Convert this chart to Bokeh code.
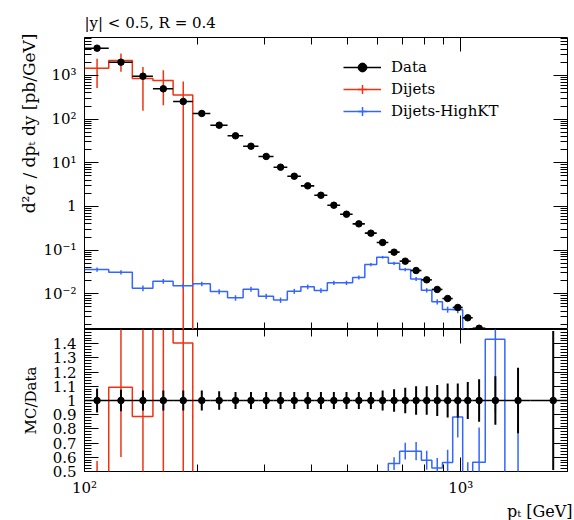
import numpy as np
from bokeh.plotting import figure
from bokeh.layouts import column
from bokeh.models import (Range1d, LogAxis, LinearAxis, FixedTicker, CustomJSTickFormatter,
                          Legend, LegendItem, Title)
from bokeh.embed import file_html
from bokeh.resources import INLINE

# ---------------- data ----------------
bin_edges = [100, 116, 134, 152, 172, 194, 216, 240, 264, 290, 318, 346, 376, 408, 442, 478,
             516, 556, 598, 642, 688, 736, 786, 838, 894, 952, 1012, 1076, 1162, 1310, 1530, 1992]

data_values = [4220, 2017, 963, 496, 254, 135, 72.8, 41.6, 24.0, 14.0, 7.95, 4.94, 2.97, 1.81,
               1.07, 0.667, 0.40, 0.245, 0.150, 0.090, 0.056, 0.0342, 0.0209, 0.0126, 0.0078,
               0.00487, 0.00283, 0.00163, 6.5e-4, 1.9e-4, 2.0e-5]
data_rel_err = [0.085, 0.075, 0.07, 0.07, 0.07, 0.07, 0.065, 0.06, 0.06, 0.06, 0.06, 0.06, 0.06,
                0.06, 0.06, 0.06, 0.06, 0.06, 0.07, 0.08, 0.09, 0.10, 0.10, 0.11, 0.12, 0.12,
                0.13, 0.15, 0.17, 0.23, 0.49]

dijets_values = [1470, 2205, 855, 767, 357, 0, 0, 0, 0, 0, 0, 0, 0, 0, 0, 0,
                 0, 0, 0, 0, 0, 0, 0, 0, 0, 0, 0, 0, 0, 0, 0]
dijets_errors = [950, 990, 700, 560, 370, 0, 0, 0, 0, 0, 0, 0, 0, 0, 0, 0,
                 0, 0, 0, 0, 0, 0, 0, 0, 0, 0, 0, 0, 0, 0, 0]

highkt_values = [0.0361, 0.0313, 0.0135, 0.0195, 0.0153, 0.0170, 0.0113, 0.0081, 0.0128, 0.0088,
                 0.0072, 0.0115, 0.0145, 0.0119, 0.0179, 0.0179, 0.0237, 0.047, 0.069, 0.050,
                 0.036, 0.022, 0.0121, 0.0066, 0.0044, 0.0043, 0.0012, 0.00092, 0.00093, 0.00004, 0]
highkt_errors = [0.004, 0.0035, 0.002, 0.0025, 0.002, 0.002, 0.0015, 0.0012, 0.0017, 0.0012,
                 0.001, 0.0015, 0.0018, 0.0015, 0.002, 0.002, 0.0025, 0.004, 0.005, 0.004,
                 0.0033, 0.0022, 0.0014, 0.0009, 0.0007, 0.0007, 0.0004, 0.0004, 0.00033, 0.00012, 0]

title_text = "|y| < 0.5, R = 0.4"
ylabel_top = "d²σ / dpₜ dy [pb/GeV]"
ylabel_ratio = "MC/Data"
xlabel = "pₜ [GeV]"
legend_labels = ["Data", "Dijets", "Dijets-HighKT"]

x_major_ticks = [100, 1000]
x_minor_ticks = [200, 300, 400, 500, 600, 700, 800, 900, 2000]
y_major_ticks = [1e-3, 1e-2, 1e-1, 1, 10, 100, 1000, 1e4]
ratio_major_ticks = [0.5, 0.6, 0.7, 0.8, 0.9, 1.0, 1.1, 1.2, 1.3, 1.4]

# ---------------- style ----------------
X_RANGE = (100, 1922)
Y_RANGE_TOP = (1.525e-3, 7413)
Y_RANGE_RATIO = (0.5, 1.5)
FONT = "DejaVu Serif"
RED = "#EE3311"
BLUE = "#3366FF"
TINY = 1e-12
W = 574

edges = np.array(bin_edges, dtype=float)
lo, hi = edges[:-1], edges[1:]
centers = (lo + hi) / 2
dv = np.array(data_values, dtype=float)
de = dv * np.array(data_rel_err, dtype=float)

y_minor_ticks = [m * 10.0 ** e for e in range(-3, 4) for m in range(2, 10)]
ratio_minor_ticks = [round(0.5 + 0.02 * k, 2) for k in range(51)]

LOG_JS = """
const e = Math.round(Math.log10(tick));
if (e === 0) { return "1"; }
const sup = {"-": "\u207b", "0": "\u2070", "1": "\u00b9", "2": "\u00b2", "3": "\u00b3",
             "4": "\u2074", "5": "\u2075", "6": "\u2076", "7": "\u2077", "8": "\u2078", "9": "\u2079"};
return "10" + String(e).split("").map(c => sup[c]).join("");
"""
RATIO_JS = """
if (Math.abs(tick - 1) < 1e-9) { return "1"; }
return tick.toFixed(1);
"""
EMPTY_JS = "return '';"


def style_axis(ax, ticker, labels_js):
    ax.ticker = ticker
    ax.axis_line_color = None
    ax.major_tick_in = 14
    ax.major_tick_out = 0
    ax.minor_tick_in = 7
    ax.minor_tick_out = 0
    ax.major_tick_line_color = "black"
    ax.minor_tick_line_color = "black"
    ax.major_tick_line_width = 1
    ax.minor_tick_line_width = 1
    ax.major_label_text_font = FONT
    ax.major_label_text_font_size = "15px"
    ax.major_label_text_color = "black"
    if labels_js is None:
        ax.formatter = CustomJSTickFormatter(code=EMPTY_JS)
        ax.major_label_standoff = 0
    else:
        ax.formatter = CustomJSTickFormatter(code=labels_js)
        ax.major_label_standoff = 8


x_range = Range1d(*X_RANGE)

# ---------------- top panel ----------------
p = figure(width=W, height=329, x_axis_type="log", y_axis_type="log",
           x_range=x_range, y_range=Range1d(*Y_RANGE_TOP),
           output_backend="svg", toolbar_location=None,
           min_border_left=84, min_border_right=7, min_border_top=37, min_border_bottom=0,
           title=title_text)
p.title.text_font = FONT
p.title.text_font_size = "15px"
p.title.text_font_style = "normal"
p.title.text_color = "black"
p.title.align = "left"
p.title.offset = 0
p.title.standoff = 12
p.outline_line_color = "black"
p.outline_line_width = 1
p.grid.visible = False
p.background_fill_color = "white"
p.border_fill_color = "white"

style_axis(p.xaxis[0], FixedTicker(ticks=x_major_ticks, minor_ticks=x_minor_ticks), None)
style_axis(p.yaxis[0], FixedTicker(ticks=y_major_ticks, minor_ticks=y_minor_ticks), LOG_JS)
ax_top = LogAxis()
style_axis(ax_top, FixedTicker(ticks=x_major_ticks, minor_ticks=x_minor_ticks), None)
p.add_layout(ax_top, "above")
ax_right = LogAxis()
style_axis(ax_right, FixedTicker(ticks=y_major_ticks, minor_ticks=y_minor_ticks), None)
p.add_layout(ax_right, "right")

p.add_layout(Title(text=ylabel_top, align="right", text_font=FONT, text_font_size="17px",
                   text_font_style="normal", text_color="black", standoff=3, offset=-4), "left")


def mc_arrays(values, errors):
    v = np.array(values, dtype=float)
    e = np.array(errors, dtype=float)
    step_y = np.where(v > 0, v, TINY)
    step_y = np.append(step_y, step_y[-1])
    mask = v > 0
    return v, e, step_y, mask


# Dijets (red)
rv, re_, r_step, r_mask = mc_arrays(dijets_values, dijets_errors)
red_step = p.step(x=edges, y=r_step, mode="after", line_color=RED, line_width=1.5)
p.segment(x0=centers[r_mask], x1=centers[r_mask],
          y0=np.maximum(rv[r_mask] - re_[r_mask], TINY), y1=rv[r_mask] + re_[r_mask],
          line_color=RED, line_width=1.5)
# invisible markers that only provide the legend's vertical tick
red_tick = p.scatter(x=centers[r_mask], y=rv[r_mask], marker="cross", line_color=RED,
                     line_width=1.5, visible=False)

# Dijets-HighKT (blue)
bv, be, b_step, b_mask = mc_arrays(highkt_values, highkt_errors)
blue_step = p.step(x=edges, y=b_step, mode="after", line_color=BLUE, line_width=1.5)
p.segment(x0=centers[b_mask], x1=centers[b_mask],
          y0=np.maximum(bv[b_mask] - be[b_mask], TINY), y1=bv[b_mask] + be[b_mask],
          line_color=BLUE, line_width=1.5)
blue_tick = p.scatter(x=centers[b_mask], y=bv[b_mask], marker="cross", line_color=BLUE,
                      line_width=1.5, visible=False)

# Data (black)
data_h = p.segment(x0=lo, x1=hi, y0=dv, y1=dv, line_color="black", line_width=1.6)
p.segment(x0=centers, x1=centers, y0=dv - de, y1=dv + de, line_color="black", line_width=1.6)
data_pts = p.scatter(x=centers, y=dv, size=6.5, marker="circle", fill_color="black", line_color="black")
data_tick = p.scatter(x=centers, y=dv, marker="cross", line_color="black", line_width=1.5, visible=False)

legend = Legend(items=[
    LegendItem(label=legend_labels[0], renderers=[data_h, data_tick, data_pts]),
    LegendItem(label=legend_labels[1], renderers=[red_step, red_tick]),
    LegendItem(label=legend_labels[2], renderers=[blue_step, blue_tick]),
], location=(259, 207), orientation="vertical", glyph_width=38, glyph_height=22,
    label_height=22, spacing=0, padding=0, margin=0, label_standoff=10,
    border_line_color=None, background_fill_alpha=0,
    label_text_font=FONT, label_text_font_size="15px", label_text_color="black")
p.add_layout(legend)

# ---------------- ratio panel ----------------
q = figure(width=W, height=191, x_axis_type="log",
           x_range=x_range, y_range=Range1d(*Y_RANGE_RATIO),
           output_backend="svg", toolbar_location=None,
           min_border_left=84, min_border_right=7, min_border_top=0, min_border_bottom=45)
q.outline_line_color = "black"
q.outline_line_width = 1
q.grid.visible = False
q.background_fill_color = "white"
q.border_fill_color = "white"

style_axis(q.xaxis[0], FixedTicker(ticks=x_major_ticks, minor_ticks=x_minor_ticks), LOG_JS)
q.xaxis[0].major_label_standoff = 7
style_axis(q.yaxis[0], FixedTicker(ticks=ratio_major_ticks, minor_ticks=ratio_minor_ticks), RATIO_JS)
q.yaxis[0].axis_label = ylabel_ratio
q.yaxis[0].axis_label_text_font = FONT
q.yaxis[0].axis_label_text_font_size = "15px"
q.yaxis[0].axis_label_text_font_style = "normal"
q.yaxis[0].axis_label_text_color = "black"
q.yaxis[0].axis_label_standoff = 10
qa_top = LogAxis()
style_axis(qa_top, FixedTicker(ticks=x_major_ticks, minor_ticks=x_minor_ticks), None)
q.add_layout(qa_top, "above")
qa_right = LinearAxis()
style_axis(qa_right, FixedTicker(ticks=ratio_major_ticks, minor_ticks=ratio_minor_ticks), None)
q.add_layout(qa_right, "right")

q.add_layout(Title(text=xlabel, align="right", text_font=FONT, text_font_size="16px",
                   text_font_style="normal", text_color="black", standoff=0, offset=-5), "below")

# MC ratios
r_ratio = rv / dv
r_ratio_err = re_ / dv
q.step(x=edges, y=np.append(r_ratio, r_ratio[-1]), mode="after", line_color=RED, line_width=1.5)
q.segment(x0=centers[r_mask], x1=centers[r_mask], y0=(r_ratio - r_ratio_err)[r_mask],
          y1=(r_ratio + r_ratio_err)[r_mask], line_color=RED, line_width=1.5)

b_ratio = bv / dv
b_ratio_err = be / dv
q.step(x=edges, y=np.append(b_ratio, b_ratio[-1]), mode="after", line_color=BLUE, line_width=1.5)
q.segment(x0=centers[b_mask], x1=centers[b_mask], y0=(b_ratio - b_ratio_err)[b_mask],
          y1=(b_ratio + b_ratio_err)[b_mask], line_color=BLUE, line_width=1.5)

# data ratio
ones = dv / dv
q.segment(x0=lo, x1=hi, y0=ones, y1=ones, line_color="black", line_width=1.6)
q.segment(x0=centers, x1=centers, y0=ones - np.array(data_rel_err), y1=ones + np.array(data_rel_err),
          line_color="black", line_width=2)
q.scatter(x=centers, y=ones, size=6.5, marker="circle", fill_color="black", line_color="black")

layout = column(p, q, spacing=0)
with open("out.html", "w") as f:
    f.write(file_html(layout, INLINE))
